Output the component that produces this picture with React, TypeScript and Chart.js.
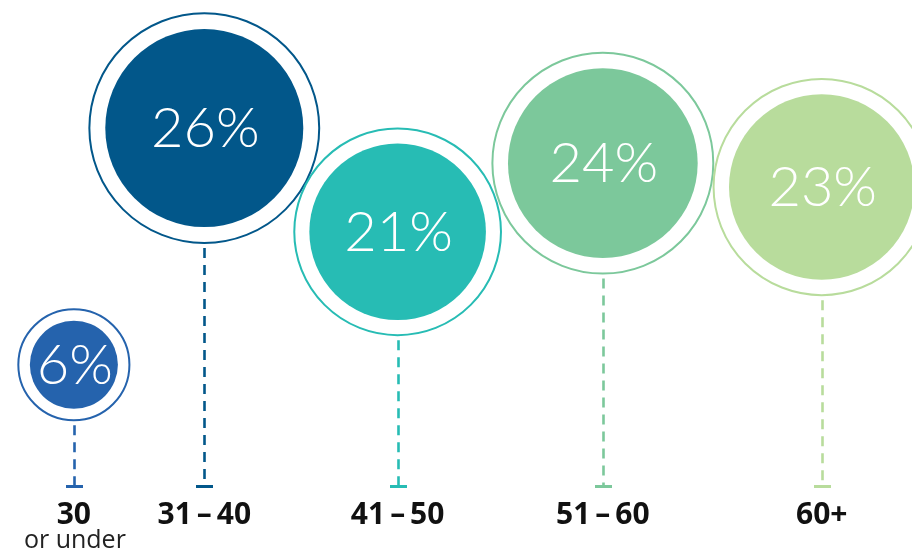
import React, { useEffect, useRef } from "react";
import { Chart, registerables } from "chart.js";

Chart.register(...registerables);

// ---- data ----
const categories: string[] = ["30", "31\u2009–\u200940", "41\u2009–\u200950", "51\u2009–\u200960", "60+"];
const subLabels: string[] = ["or under", "", "", "", ""];
const shares: number[] = [6, 26, 21, 24, 23];
// horizontal placement (0–100 across) and height above baseline (0–100)
const xSlots: number[] = [8.1, 22.4, 43.6, 66.1, 90.1];
const levels: number[] = [25.1, 73.7, 52.4, 66.5, 61.6];
const colors: string[] = ["#2563ad", "#02578a", "#27bcb4", "#7cc89b", "#b8dc9c"];

const radiusFor = (v: number) => 20.75 * Math.sqrt(v) - 6.8;
const ringFor = (v: number) => {
  const r = radiusFor(v);
  return r + 0.08 * r + 8;
};

const overlayPlugin = {
  id: "overlay",
  beforeDatasetsDraw(chart: any) {
    const { ctx } = chart;
    const xs = chart.scales.x;
    const ys = chart.scales.y;
    const base = ys.getPixelForValue(0);
    shares.forEach((v, i) => {
      const x = Math.round(xs.getPixelForValue(xSlots[i])) + 0.5;
      const cy = ys.getPixelForValue(levels[i]);
      const top = cy + ringFor(v) + 1;
      ctx.save();
      ctx.strokeStyle = colors[i];
      ctx.lineWidth = 2.6;
      ctx.setLineDash([10, 7]);
      ctx.beginPath();
      ctx.moveTo(x, top + 4);
      ctx.lineTo(x, base - 2);
      ctx.stroke();
      ctx.setLineDash([]);
      ctx.fillStyle = colors[i];
      ctx.fillRect(x - 8.5, base - 2, 17, 3);
      ctx.restore();
    });
  },
  afterDatasetsDraw(chart: any) {
    const { ctx } = chart;
    const xs = chart.scales.x;
    const ys = chart.scales.y;
    const base = ys.getPixelForValue(0);
    shares.forEach((v, i) => {
      const x = xs.getPixelForValue(xSlots[i]);
      const cy = ys.getPixelForValue(levels[i]);
      ctx.save();
      ctx.fillStyle = "#ffffff";
      ctx.textAlign = "center";
      ctx.textBaseline = "middle";
      ctx.font = "300 56px Lato, 'Open Sans', sans-serif";
      ctx.fillText(v + "%", x + 1, cy + 1);
      ctx.fillStyle = "#111111";
      ctx.font = "700 30px 'Open Sans', Lato, sans-serif";
      ctx.fillText(categories[i], x, base + 28);
      if (subLabels[i]) {
        ctx.font = "400 25px 'Open Sans', Lato, sans-serif";
        ctx.fillStyle = "#222222";
        ctx.fillText(subLabels[i], x + 1, base + 54);
      }
      ctx.restore();
    });
  },
};

export default function App() {
  const ref = useRef<HTMLCanvasElement | null>(null);
  useEffect(() => {
    if (!ref.current) return;
    const fills = shares.map((v, i) => ({ x: xSlots[i], y: levels[i], r: radiusFor(v) }));
    const rings = shares.map((v, i) => ({ x: xSlots[i], y: levels[i], r: ringFor(v) }));
    const chart = new Chart(ref.current, {
      type: "bubble",
      data: {
        datasets: [
          {
            label: "share",
            data: fills,
            backgroundColor: colors,
            borderWidth: 0,
            clip: false,
          } as any,
          {
            label: "ring",
            data: rings,
            backgroundColor: "rgba(0,0,0,0)",
            borderColor: colors,
            borderWidth: 2,
            clip: false,
          } as any,
        ],
      },
      options: {
        animation: false,
        responsive: false,
        events: [],
        layout: { autoPadding: false, padding: { top: 0, left: 0, right: 0, bottom: 63 } },
        plugins: { legend: { display: false }, tooltip: { enabled: false } },
        scales: {
          x: { type: "linear", min: 0, max: 100, display: false },
          y: { type: "linear", min: 0, max: 100, display: false },
        },
      } as any,
      plugins: [overlayPlugin],
    });
    return () => chart.destroy();
  }, []);
  return (
    <div style={{ position: "absolute", left: 0, top: 0, width: 912, height: 550, background: "#fff" }}>
      <canvas ref={ref} width={912} height={550} style={{ display: "block" }} />
    </div>
  );
}
